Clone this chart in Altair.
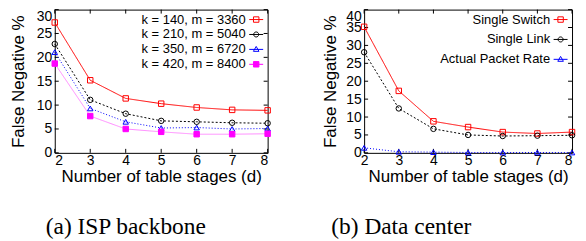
import altair as alt
import pandas as pd

stages = [2, 3, 4, 5, 6, 7, 8]
x_ticks = [2, 3, 4, 5, 6, 7, 8]

isp_series = ["k = 140, m = 3360", "k = 210, m = 5040", "k = 350, m = 6720", "k = 420, m = 8400"]
isp_k140 = [27.3, 15.2, 11.4, 10.3, 9.5, 9.0, 8.9]
isp_k210 = [22.8, 11.1, 8.2, 6.7, 6.5, 6.3, 6.2]
isp_k350 = [21.1, 9.3, 6.5, 5.2, 5.3, 5.0, 5.1]
isp_k420 = [18.7, 7.7, 5.0, 4.4, 3.9, 3.9, 4.0]
isp_y_ticks = [0, 5, 10, 15, 20, 25, 30]

dc_series = ["Single Switch", "Single Link", "Actual Packet Rate"]
dc_switch = [35.2, 17.3, 8.8, 7.2, 5.8, 5.4, 5.8]
dc_link = [28.1, 12.4, 6.7, 5.0, 4.7, 4.8, 4.9]
dc_actual = [1.4, 0.3, 0.2, 0.1, 0.1, 0.1, 0.1]
dc_y_ticks = [0, 5, 10, 15, 20, 25, 30, 35, 40]

SQ = "M-1,0H1M-0.39,-0.39H0.39V0.39H-0.39Z"
CI = "M-1,0H1M0.36,0A0.36,0.36 0 1,1 -0.36,0A0.36,0.36 0 1,1 0.36,0Z"
TR = "M-1,0H1M0,-0.42L0.4,0.28H-0.4Z"

FONT = "Liberation Sans"
H = 144
PAD = "\u00a0" * 5 + "\u200b"


def panel(names, values, ymax, y_ticks, caption, line_colors, dashes, mark_colors,
          fills, shapes, leg_paths, width, row_pad, title_pad, cap_dx, leg_x, leg_y, last_right):
    rows = []
    for name, vals in zip(names, values):
        for s, v in zip(stages, vals):
            rows.append({"stage": s, "value": v, "series": name, "lab": name + PAD})
    df = pd.DataFrame(rows)
    labs = [n + PAD for n in names]

    xaxis = dict(values=x_ticks, title="Number of table stages (d)", labelPadding=1, titlePadding=1)
    if last_right:
        xaxis["labelAlign"] = {"condition": {"test": "datum.value == 8", "value": "right"},
                               "value": "center"}
    x = alt.X("stage:Q", scale=alt.Scale(domain=[2, 8], nice=False), axis=alt.Axis(**xaxis))
    y = alt.Y("value:Q", scale=alt.Scale(domain=[0, ymax], nice=False),
              axis=alt.Axis(values=y_ticks, title="False Negative %", labelPadding=3,
                            titlePadding=title_pad, labelOverlap=False,
                            labelBaseline={"condition": {"test": f"datum.value == {ymax}", "value": "top"},
                                           "value": "middle"}))
    lines = alt.Chart(df).mark_line(strokeWidth=1).encode(
        x=x, y=y,
        color=alt.Color("series:N", scale=alt.Scale(domain=names, range=line_colors), legend=None),
        strokeDash=alt.StrokeDash("series:N", scale=alt.Scale(domain=names, range=dashes), legend=None),
    )
    points = alt.Chart(df).mark_point(size=30, strokeWidth=1, opacity=1, filled=True).encode(
        x=x, y=y,
        shape=alt.Shape("series:N", scale=alt.Scale(domain=names, range=shapes), legend=None),
        stroke=alt.Stroke("series:N", scale=alt.Scale(domain=names, range=mark_colors), legend=None),
        fill=alt.Fill("series:N", scale=alt.Scale(domain=names, range=fills), legend=None),
    )
    leg = alt.Legend(title=None, orient="none", legendX=leg_x, legendY=leg_y, rowPadding=row_pad,
                     symbolOpacity=1, symbolStrokeWidth=1, symbolSize=196, labelAlign="right",
                     labelOffset=0, labelFont=FONT, labelFontSize=13, labelColor="black",
                     padding=0, labelLimit=400)
    legend_layer = alt.Chart(df).mark_point(opacity=0, filled=True).encode(
        x=x, y=y,
        shape=alt.Shape("lab:N", scale=alt.Scale(domain=labs, range=leg_paths), legend=leg),
        stroke=alt.Stroke("lab:N", scale=alt.Scale(domain=labs, range=mark_colors), legend=leg),
        fill=alt.Fill("lab:N", scale=alt.Scale(domain=labs, range=fills), legend=leg),
    )
    xt = pd.DataFrame({"stage": x_ticks})
    yt = pd.DataFrame({"value": y_ticks})
    tb = alt.Chart(xt).mark_rule(color="black", strokeWidth=1).encode(
        x=x, y=alt.value(H), y2=alt.value(H - 4))
    tt = alt.Chart(xt).mark_rule(color="black", strokeWidth=1).encode(
        x=x, y=alt.value(0), y2=alt.value(4))
    tl = alt.Chart(yt).mark_rule(color="black", strokeWidth=1).encode(
        y=y, x=alt.value(0), x2=alt.value(4))
    tr = alt.Chart(yt).mark_rule(color="black", strokeWidth=1).encode(
        y=y, x=alt.value(width), x2=alt.value(width - 4))
    return alt.layer(tb, tt, tl, tr, lines, points, legend_layer).resolve_scale(
        shape="independent", stroke="independent", fill="independent"
    ).properties(
        width=width, height=H,
        title=alt.TitleParams(caption, orient="bottom", anchor="start", frame="group", dx=cap_dx,
                              font="Liberation Serif", fontSize=23.5, fontWeight="normal",
                              color="black", offset=31),
    )


left = panel(isp_series, [isp_k140, isp_k210, isp_k350, isp_k420], 30, isp_y_ticks,
             "(a) ISP backbone",
             ["#ff0000", "#000000", "#0000ff", "#ff88ff"],
             [[1, 0], [2, 2], [1, 2], [1, 0]],
             ["#ff0000", "#000000", "#0000ff", "#ff00ff"],
             ["transparent", "transparent", "transparent", "#ff00ff"],
             ["square", "circle", "triangle-up", "square"],
             [SQ, CI, TR, SQ], 214, 0, 9, -9, 195, 2.5, False)

right = panel(dc_series, [dc_switch, dc_link, dc_actual], 40, dc_y_ticks,
              "(b) Data center",
              ["#ff0000", "#000000", "#8888ff"],
              [[1, 0], [2, 2], [1, 0]],
              ["#ff0000", "#000000", "#0000ff"],
              ["transparent", "transparent", "transparent"],
              ["square", "circle", "triangle-up"],
              [SQ, CI, TR], 209, 5, 6, -33, 190, 2.5, True)

chart = alt.hconcat(left, right, spacing=47).configure(
    padding=0, background="white"
).configure_view(stroke="black", strokeWidth=1).configure_axis(
    labelFont=FONT, labelFontSize=14, labelColor="black", titleFont=FONT, titleFontSize=17,
    titleFontWeight="normal", titleColor="black", ticks=False, domain=False, grid=False
)

chart.save("out.html", embed_options={"renderer": "svg", "actions": False})
